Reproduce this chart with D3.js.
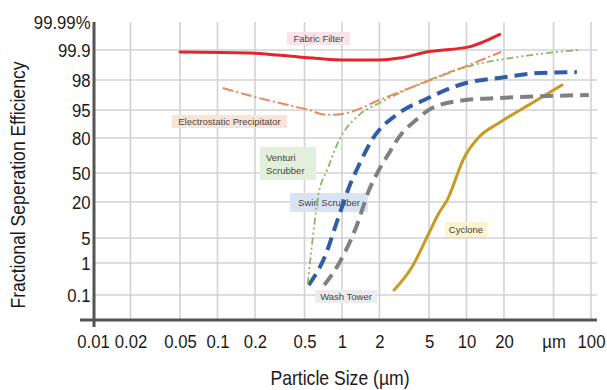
<!DOCTYPE html>
<html><head><meta charset="utf-8">
<script src="https://cdn.jsdelivr.net/npm/d3@7/dist/d3.min.js"></script>
<style>body{margin:0;background:#fff}svg{display:block}</style>
</head><body><svg id="chart" width="607" height="390"></svg>
<script>
// ---------- data ----------
const xTickValues = [0.01, 0.02, 0.05, 0.1, 0.2, 0.5, 1, 2, 5, 10, 20, 50, 100];
const xTickLabels = ["0.01", "0.02", "0.05", "0.1", "0.2", "0.5", "1", "2", "5", "10", "20", "µm", "100"];
const yTickValues = [0.1, 1, 5, 20, 50, 80, 95, 98, 99.9, 99.99];
const yTickLabels = ["0.1", "1", "5", "20", "50", "80", "95", "98", "99.9", "99.99%"];

const seriesNames = ["Fabric Filter", "Electrostatic Precipitator", "Venturi Scrubber", "Swirl Scrubber", "Wash Tower", "Cyclone"];

// [particle size µm, fractional efficiency %]
const fabricFilter = [[0.05, 99.77], [0.18, 99.71], [0.45, 99.46], [1.0, 99.27], [2.0, 99.27], [2.9, 99.39], [5.0, 99.8], [10.5, 99.91], [18.5, 99.95]];
const electrostaticPrecipitator = [[0.11, 97.2], [0.2, 96.3], [0.54, 95.0], [0.75, 92.4], [1.0, 92.9], [2.0, 96.0], [2.9, 96.8], [7.2, 98.44], [19, 99.78]];
const venturiScrubber = [[0.53, 0.4], [0.56, 2.0], [0.65, 29], [0.76, 52.6], [0.95, 78.3], [1.37, 92.3], [2.0, 95.7], [2.9, 96.7], [9.9, 98.82], [33, 99.58], [80, 99.9]];
const swirlScrubber = [[0.54, 0.38], [0.72, 1.8], [0.95, 14.6], [1.14, 35.5], [1.37, 56.9], [1.74, 78.3], [2.87, 93.4], [4.56, 96.0], [9.9, 97.7], [18.2, 98.13], [38, 98.44], [77, 98.5]];
const washTower = [[0.72, 0.38], [0.95, 1.0], [1.3, 9.6], [1.65, 32.4], [1.98, 52.6], [2.39, 67.1], [2.87, 80.5], [3.93, 89.6], [5.3, 95.2], [9.9, 96.0], [18.2, 96.2], [46, 96.4], [96, 96.5]];
const cyclone = [[2.62, 0.24], [3.65, 0.89], [5.0, 7.1], [6.0, 15.4], [7.0, 22.1], [9.55, 62.9], [12.6, 80.5], [18.2, 88.0], [33.6, 95.7], [58.5, 97.5]];

// ---------- layout / styles ----------
const W = 607, H = 390;
const plotLeft = 94, plotRight = 597, plotTop = 22, axisY = 320;
const yGridPx = [295, 263, 238, 202, 173, 138, 110, 80, 50, 22];

const x = d3.scaleLog().domain([0.01, 100]).range([93, 591]);
const y = d3.scaleLinear().domain(yTickValues).range(yGridPx);

const styles = {
  "Fabric Filter": {color: "#e3262b", width: 3, dash: null},
  "Electrostatic Precipitator": {color: "#e98a5c", width: 2, dash: "11,3,2,3"},
  "Venturi Scrubber": {color: "#86b861", width: 1.8, dash: "7,3,2,3,2,3"},
  "Swirl Scrubber": {color: "#2f5ea6", width: 4, dash: "13,7"},
  "Wash Tower": {color: "#808080", width: 4, dash: "13,7"},
  "Cyclone": {color: "#c99a22", width: 3, dash: null}
};

const labelBoxes = [
  {lines: ["Fabric Filter"], x0: 287, y0: 32, w: 63, h: 13, bg: "#fbe3ea", align: "middle"},
  {lines: ["Electrostatic Precipitator"], x0: 172, y0: 115, w: 115, h: 13, bg: "#fbe4d5", align: "middle"},
  {lines: ["Venturi", "Scrubber"], x0: 260, y0: 147, w: 56, h: 33, bg: "#e2efda", align: "start"},
  {lines: ["Swirl Scrubber"], x0: 290, y0: 193, w: 78, h: 19, bg: "#dae3f3", align: "middle"},
  {lines: ["Wash Tower"], x0: 315, y0: 290, w: 62, h: 13, bg: "#ececec", align: "middle"},
  {lines: ["Cyclone"], x0: 445, y0: 222, w: 42, h: 15, bg: "#fff2cc", align: "middle"}
];

const svg = d3.select("#chart");
svg.append("rect").attr("width", W).attr("height", H).attr("fill", "#fff");

const font = "'Liberation Sans', Arial, sans-serif";
const squeeze = "scale(0.88,1)";

// grid
svg.append("g").selectAll("line").data(xTickValues.slice(1)).join("line")
  .attr("x1", d => x(d)).attr("x2", d => x(d))
  .attr("y1", plotTop).attr("y2", axisY)
  .attr("stroke", "#d2d2d2").attr("stroke-width", 1.6);
svg.append("g").selectAll("line").data(yTickValues.slice(0, -1)).join("line")
  .attr("x1", plotLeft).attr("x2", plotRight)
  .attr("y1", d => y(d)).attr("y2", d => y(d))
  .attr("stroke", "#d2d2d2").attr("stroke-width", 1.6);

// annotation boxes (behind lines)
const lb = svg.append("g");
labelBoxes.forEach(b => {
  lb.append("rect").attr("x", b.x0).attr("y", b.y0).attr("width", b.w).attr("height", b.h).attr("fill", b.bg);
  b.lines.forEach((t, i) => {
    lb.append("text")
      .attr("x", b.align === "middle" ? b.x0 + b.w / 2 : b.x0 + 6)
      .attr("y", b.lines.length === 1 ? b.y0 + b.h / 2 : b.y0 + 11 + i * 13)
      .attr("dy", "0.35em")
      .attr("text-anchor", b.align)
      .attr("font-family", font)
      .attr("font-size", 9.5)
      .attr("fill", "#444")
      .text(t);
  });
});

// series
const allSeries = [fabricFilter, electrostaticPrecipitator, venturiScrubber, swirlScrubber, washTower, cyclone];
const line = d3.line().x(d => x(d[0])).y(d => y(d[1])).curve(d3.curveMonotoneX);
[5, 4, 3, 2, 1, 0].forEach(i => {
  const s = styles[seriesNames[i]];
  svg.append("path").datum(allSeries[i])
    .attr("d", line)
    .attr("fill", "none")
    .attr("stroke", s.color)
    .attr("stroke-width", s.width)
    .attr("stroke-dasharray", s.dash)
    .attr("stroke-linecap", s.dash ? "butt" : "round");
});

// axes
const xAxis = d3.axisBottom(x).tickValues(xTickValues).tickFormat((d, i) => xTickLabels[i]).tickSize(0).tickPadding(15);
const gx = svg.append("g").attr("transform", `translate(0,${axisY})`).call(xAxis);
gx.select(".domain").remove();
gx.selectAll("text").attr("font-family", font).attr("font-size", 19).attr("fill", "#1a1a1a").attr("transform", squeeze);

const yAxis = d3.axisLeft(y).tickValues(yTickValues).tickFormat((d, i) => yTickLabels[i]).tickSize(0).tickPadding(4);
const gy = svg.append("g").attr("transform", `translate(${plotLeft},0)`).call(yAxis);
gy.select(".domain").remove();
gy.selectAll("text").attr("font-family", font).attr("font-size", 19).attr("fill", "#1a1a1a").attr("transform", squeeze);

svg.append("line").attr("x1", 80).attr("x2", plotRight).attr("y1", axisY).attr("y2", axisY)
  .attr("stroke", "#555").attr("stroke-width", 3);
svg.append("line").attr("x1", plotLeft).attr("x2", plotLeft).attr("y1", plotTop).attr("y2", 327)
  .attr("stroke", "#555").attr("stroke-width", 3);

// titles
svg.append("text").attr("transform", `translate(340,378) ${squeeze}`).attr("dy", "0.35em").attr("text-anchor", "middle")
  .attr("font-family", font).attr("font-size", 20).attr("fill", "#1a1a1a").text("Particle Size (µm)");
svg.append("text").attr("transform", `translate(18,185) rotate(-90) ${squeeze}`).attr("dy", "0.35em").attr("text-anchor", "middle")
  .attr("font-family", font).attr("font-size", 20).attr("fill", "#1a1a1a").text("Fractional Seperation Efficiency");
</script>
</body></html>
